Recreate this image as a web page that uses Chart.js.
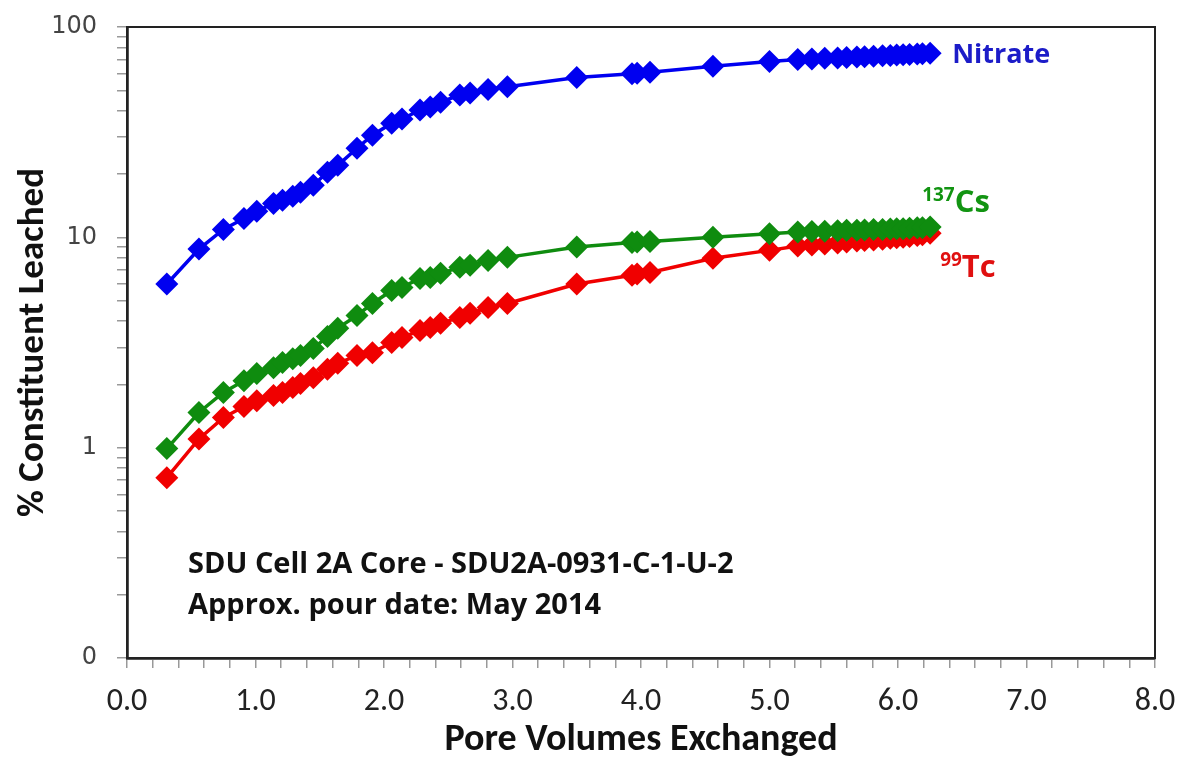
<!DOCTYPE html>
<html>
<head>
<meta charset="utf-8">
<script src="https://cdn.jsdelivr.net/npm/chart.js@4/dist/chart.umd.min.js"></script>
<style>
  html, body { margin: 0; padding: 0; background: #fff; }
  #wrap { width: 1177px; height: 759px; }
</style>
</head>
<body>
<div id="wrap"><canvas id="chart" width="1177" height="759"></canvas></div>
<script>
// pore volumes exchanged (same sampling for all three series)
const poreVolumes = [0.31, 0.56, 0.75, 0.91, 1.01, 1.14, 1.21, 1.29, 1.35, 1.45,
  1.56, 1.64, 1.79, 1.91, 2.06, 2.14, 2.28, 2.36, 2.44, 2.59,
  2.67, 2.81, 2.96, 3.50, 3.93, 3.97, 4.07, 4.56, 5.00, 5.22,
  5.33, 5.43, 5.53, 5.60, 5.68, 5.74, 5.81, 5.88, 5.94, 5.99,
  6.04, 6.09, 6.15, 6.19, 6.25];

// % leached
const nitrate = [6.0, 8.8, 10.9, 12.3, 13.3, 14.5, 15.0, 15.7, 16.4, 17.7,
  20.4, 22.0, 26.5, 30.6, 34.9, 36.5, 40.3, 41.6, 43.9, 47.5,
  48.5, 50.5, 52.0, 57.5, 60.0, 60.3, 61.0, 65.0, 68.5, 70.0,
  70.5, 71.0, 71.3, 71.7, 72.0, 72.3, 72.6, 72.9, 73.2, 73.5,
  73.8, 74.1, 74.4, 74.7, 75.0];
const cs137 = [0.99, 1.47, 1.83, 2.08, 2.25, 2.40, 2.54, 2.65, 2.74, 2.96,
  3.38, 3.70, 4.25, 4.85, 5.59, 5.78, 6.38, 6.45, 6.74, 7.20,
  7.36, 7.77, 8.03, 9.0, 9.45, 9.5, 9.55, 10.0, 10.4, 10.6,
  10.65, 10.7, 10.75, 10.8, 10.8, 10.85, 10.9, 10.9, 10.95, 11.0,
  11.0, 11.05, 11.1, 11.1, 11.2];
const tc99 = [0.72, 1.10, 1.39, 1.57, 1.67, 1.77, 1.83, 1.93, 2.02, 2.15,
  2.36, 2.52, 2.74, 2.83, 3.16, 3.34, 3.61, 3.73, 3.90, 4.16,
  4.35, 4.64, 4.85, 6.0, 6.6, 6.7, 6.8, 7.95, 8.67, 9.1,
  9.2, 9.3, 9.4, 9.5, 9.6, 9.65, 9.7, 9.8, 9.9, 9.95,
  10.0, 10.1, 10.2, 10.3, 10.45];

// axis ticks
const yMajorTicks = [0.1, 1, 10, 100];
const yMajorLabels = ['0', '1', '10', '100'];
const xMajorTicks = [0, 1, 2, 3, 4, 5, 6, 7, 8];

const narrowFont = 'Carlito, "Liberation Sans Narrow", "Open Sans", sans-serif';
const labelFont = '"Open Sans", sans-serif';

function pts(ys) {
  return poreVolumes.map((x, i) => ({ x: x, y: ys[i] }));
}

function series(data, color) {
  return {
    data: pts(data),
    borderColor: color,
    backgroundColor: color,
    borderWidth: 3.5,
    pointStyle: 'rectRot',
    pointRadius: 11.5,
    pointHoverRadius: 11.5,
    pointBorderWidth: 0,
    tension: 0
  };
}

// frame around the plot area + text labels
const annotations = {
  id: 'annotations',
  beforeDatasetsDraw(chart) {
    const a = chart.chartArea, c = chart.ctx;
    c.save();
    c.strokeStyle = '#222';
    c.lineWidth = 2;
    c.strokeRect(a.left, a.top, a.right - a.left, a.bottom - a.top);
    c.restore();
  },
  afterDatasetsDraw(chart) {
    const c = chart.ctx, a = chart.chartArea;
    const last = i => {
      const d = chart.getDatasetMeta(i).data;
      return d[d.length - 1];
    };
    c.save();
    c.textAlign = 'left';
    c.textBaseline = 'alphabetic';

    const n = last(0);
    c.fillStyle = '#1c1cc8';
    c.font = 'bold 27px ' + labelFont;
    c.fillText('Nitrate', n.x + 22, n.y + 10);

    const g = last(1);
    c.fillStyle = '#129412';
    c.font = 'bold 19px ' + labelFont;
    c.fillText('137', g.x - 8, g.y - 26);
    let w = c.measureText('137').width;
    c.font = 'bold 31px ' + labelFont;
    c.fillText('Cs', g.x - 8 + w, g.y - 15);

    const r = last(2);
    c.fillStyle = '#e01010';
    c.font = 'bold 19px ' + labelFont;
    c.fillText('99', r.x + 10, r.y + 33);
    w = c.measureText('99').width;
    c.font = 'bold 31px ' + labelFont;
    c.fillText('Tc', r.x + 10 + w, r.y + 44);

    c.fillStyle = '#111';
    c.font = 'bold 29px ' + labelFont;
    c.fillText('SDU Cell 2A Core - SDU2A-0931-C-1-U-2', a.left + 61, a.bottom - 85);
    c.fillText('Approx. pour date: May 2014', a.left + 61, a.bottom - 44);
    c.restore();
  }
};

const ctx = document.getElementById('chart').getContext('2d');
new Chart(ctx, {
  type: 'line',
  data: {
    datasets: [
      series(nitrate, '#0000f0'),
      series(cs137, '#0f8c0f'),
      series(tc99, '#f00000')
    ]
  },
  options: {
    responsive: false,
    animation: false,
    layout: { padding: { top: 27, right: 22, left: 0, bottom: 0 } },
    plugins: { legend: { display: false }, tooltip: { enabled: false } },
    scales: {
      x: {
        type: 'linear',
        min: 0,
        max: 8,
        afterFit(s) {
          s.height = 101;
          s.paddingLeft = 0;
          s.paddingRight = 0;
        },
        afterBuildTicks(s) {
          const t = [];
          for (let i = 0; i <= 40; i++) t.push({ value: i / 5 });
          s.ticks = t;
        },
        ticks: {
          autoSkip: false,
          maxRotation: 0,
          padding: 15,
          color: '#222',
          font: { family: narrowFont, size: 32 },
          callback(v) {
            const k = xMajorTicks.find(m => Math.abs(m - v) < 1e-6);
            return k === undefined ? '' : k.toFixed(1);
          }
        },
        grid: { drawOnChartArea: false, drawTicks: true, tickLength: 10, color: '#999', lineWidth: 1.5 },
        border: { display: true, color: '#555', width: 3 },
        title: {
          display: true,
          text: 'Pore Volumes Exchanged',
          color: '#111',
          font: { family: narrowFont, size: 38, weight: 'bold', lineHeight: 1.0 },
          padding: { top: 0, bottom: 0 }
        }
      },
      y: {
        type: 'logarithmic',
        min: 0.1,
        max: 100,
        afterFit(s) {
          s.width = 127;
          s.paddingTop = 0;
          s.paddingBottom = 0;
        },
        afterBuildTicks(s) {
          const t = [];
          [0.1, 1, 10].forEach(d => {
            for (let m = 1; m <= 9; m++) t.push({ value: +(m * d).toPrecision(3) });
          });
          t.push({ value: 100 });
          s.ticks = t;
        },
        ticks: {
          autoSkip: false,
          padding: 20,
          color: '#444',
          font: { family: '"DejaVu Sans", sans-serif', size: 24 },
          callback(v) {
            const i = yMajorTicks.findIndex(m => Math.abs(m - v) < 1e-9);
            return i < 0 ? '' : yMajorLabels[i];
          }
        },
        grid: { drawOnChartArea: false, drawTicks: true, tickLength: 10, color: '#999', lineWidth: 1.5 },
        border: { display: true, color: '#555', width: 3 },
        title: {
          display: true,
          text: '% Constituent Leached',
          color: '#111',
          font: { family: narrowFont, size: 37, weight: 'bold', lineHeight: 1.0 },
          padding: { top: 15, bottom: 0 }
        }
      }
    }
  },
  plugins: [annotations]
});
</script>
</body>
</html>
